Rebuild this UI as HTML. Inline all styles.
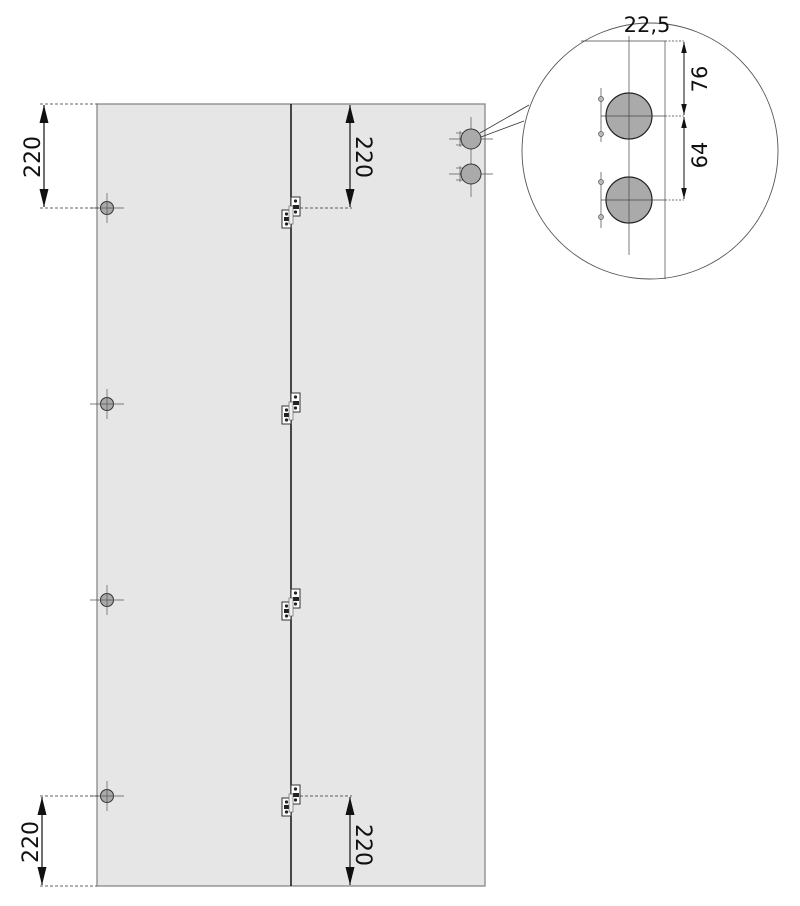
<!DOCTYPE html>
<html><head><style>body{margin:0;background:#fff}svg{display:block}</style></head><body>
<svg width="800" height="906" viewBox="0 0 800 906" xmlns="http://www.w3.org/2000/svg" font-family="'DejaVu Sans','Liberation Sans',sans-serif">
<defs>
<marker id="a" viewBox="0 0 20 10" refX="20" refY="5" markerWidth="18" markerHeight="10" orient="auto-start-reverse" markerUnits="userSpaceOnUse"><path d="M0,0L20,5L0,10z" fill="#111"/></marker>
<marker id="b" viewBox="0 0 20 10" refX="20" refY="5" markerWidth="11" markerHeight="6" orient="auto-start-reverse" markerUnits="userSpaceOnUse"><path d="M0,0L20,5L0,10z" fill="#111"/></marker>
<g id="hinge">
<rect x="0" y="-11" width="9" height="19" fill="#fff" stroke="#333" stroke-width="1"/>
<circle cx="4.5" cy="-7" r="1.6" fill="#222"/><rect x="2" y="-3" width="6" height="4" fill="#222"/><circle cx="4.5" cy="4" r="1.6" fill="#222"/>
<rect x="-9" y="2" width="9" height="18" fill="#fff" stroke="#333" stroke-width="1"/>
<circle cx="-4.5" cy="6" r="1.6" fill="#222"/><rect x="-7" y="9" width="6" height="4" fill="#222"/><circle cx="-4.5" cy="16" r="1.6" fill="#222"/>
<rect x="-2" y="-2" width="4" height="18" fill="#eee" stroke="#555" stroke-width="0.6"/>
</g>
<g id="hole"><circle r="6.5" fill="#aaa" stroke="#333" stroke-width="1"/><line x1="-17" y1="0" x2="17" y2="0" stroke="#555" stroke-width="0.7"/><line x1="0" y1="-15" x2="0" y2="15" stroke="#555" stroke-width="0.7"/></g>
</defs>
<rect x="97" y="104" width="388" height="782" fill="#e6e6e6" stroke="#888" stroke-width="1.3"/>
<line x1="291" y1="104" x2="291" y2="886" stroke="#111" stroke-width="1.5"/>
<use href="#hole" x="107" y="208"/><use href="#hole" x="107" y="404"/><use href="#hole" x="107" y="600"/><use href="#hole" x="107" y="796"/>
<use href="#hinge" x="291" y="208"/><use href="#hinge" x="291" y="404"/><use href="#hinge" x="291" y="600"/><use href="#hinge" x="291" y="796"/>
<g stroke="#333" stroke-width="0.8" stroke-dasharray="3,2" fill="none">
<line x1="40" y1="104" x2="97" y2="104"/><line x1="40" y1="208" x2="100" y2="208"/>
<line x1="300" y1="208" x2="352" y2="208"/>
<line x1="40" y1="796" x2="100" y2="796"/><line x1="40" y1="886" x2="97" y2="886"/>
<line x1="300" y1="796" x2="352" y2="796"/>
</g>
<g stroke="#111" stroke-width="1.2">
<line x1="44" y1="105" x2="44" y2="207" marker-start="url(#a)" marker-end="url(#a)"/>
<line x1="350" y1="105" x2="350" y2="207" marker-start="url(#a)" marker-end="url(#a)"/>
<line x1="42" y1="797" x2="42" y2="885" marker-start="url(#a)" marker-end="url(#a)"/>
<line x1="350" y1="797" x2="350" y2="885" marker-start="url(#a)" marker-end="url(#a)"/>
</g>
<g font-size="22" fill="#111" text-anchor="middle">
<text transform="translate(40,157) rotate(-90)">220</text>
<text transform="translate(356,157) rotate(90)">220</text>
<text transform="translate(38,842) rotate(-90)">220</text>
<text transform="translate(356,845) rotate(90)">220</text>
</g>
<!-- small holes -->
<g stroke="#555" stroke-width="0.7">
<line x1="471" y1="117" x2="471" y2="197"/>
<line x1="449" y1="139" x2="493" y2="139"/><line x1="449" y1="174" x2="493" y2="174"/>
<line x1="460" y1="131" x2="460" y2="147"/><line x1="460" y1="166" x2="460" y2="182"/>
<line x1="456" y1="133" x2="464" y2="133"/><line x1="456" y1="145" x2="464" y2="145"/>
<line x1="456" y1="168" x2="464" y2="168"/><line x1="456" y1="180" x2="464" y2="180"/>
</g>
<circle cx="471" cy="139" r="10" fill="#aaa" stroke="#333"/><circle cx="471" cy="174" r="10" fill="#aaa" stroke="#333"/>
<line x1="480" y1="133" x2="529" y2="105" stroke="#333" stroke-width="0.8"/>
<line x1="481" y1="137" x2="524" y2="121" stroke="#333" stroke-width="0.8"/>
<!-- detail circle -->
<circle cx="650" cy="151" r="128" fill="#fff" stroke="#555" stroke-width="0.9"/>
<g stroke="#444" stroke-width="0.7">
<line x1="629" y1="36" x2="629" y2="255"/>
<line x1="665" y1="41" x2="665" y2="279"/>
<line x1="581" y1="41" x2="665" y2="41"/>
<line x1="601" y1="116" x2="665" y2="116"/><line x1="601" y1="200" x2="665" y2="200"/>
<line x1="601" y1="88" x2="601" y2="142"/><line x1="601" y1="172" x2="601" y2="228"/>
</g>
<g stroke="#444" stroke-width="0.7" stroke-dasharray="2,1.5"><line x1="665" y1="41" x2="684" y2="41"/><line x1="665" y1="116" x2="684" y2="116"/><line x1="665" y1="200" x2="684" y2="200"/></g>
<g fill="#bbb" stroke="#555" stroke-width="0.7"><circle cx="601" cy="99" r="2.5"/><circle cx="601" cy="134" r="2.5"/><circle cx="601" cy="182" r="2.5"/><circle cx="601" cy="217" r="2.5"/></g>
<circle cx="629" cy="116" r="23" fill="#aaa" stroke="#222" stroke-width="1.2"/>
<circle cx="629" cy="200" r="23" fill="#aaa" stroke="#222" stroke-width="1.2"/>
<g stroke="#444" stroke-width="0.7"><line x1="606" y1="116" x2="652" y2="116"/><line x1="629" y1="93" x2="629" y2="139"/><line x1="606" y1="200" x2="652" y2="200"/><line x1="629" y1="177" x2="629" y2="223"/></g>
<g stroke="#111" stroke-width="1">
<line x1="684" y1="42" x2="684" y2="115" marker-start="url(#b)" marker-end="url(#b)"/>
<line x1="684" y1="117" x2="684" y2="199" marker-start="url(#b)" marker-end="url(#b)"/>
</g>
<g font-size="21" fill="#111" text-anchor="middle">
<text x="647" y="32">22,5</text>
<text transform="translate(707,79) rotate(-90)">76</text>
<text transform="translate(707,155) rotate(-90)">64</text>
</g>
</svg>
</body></html>
